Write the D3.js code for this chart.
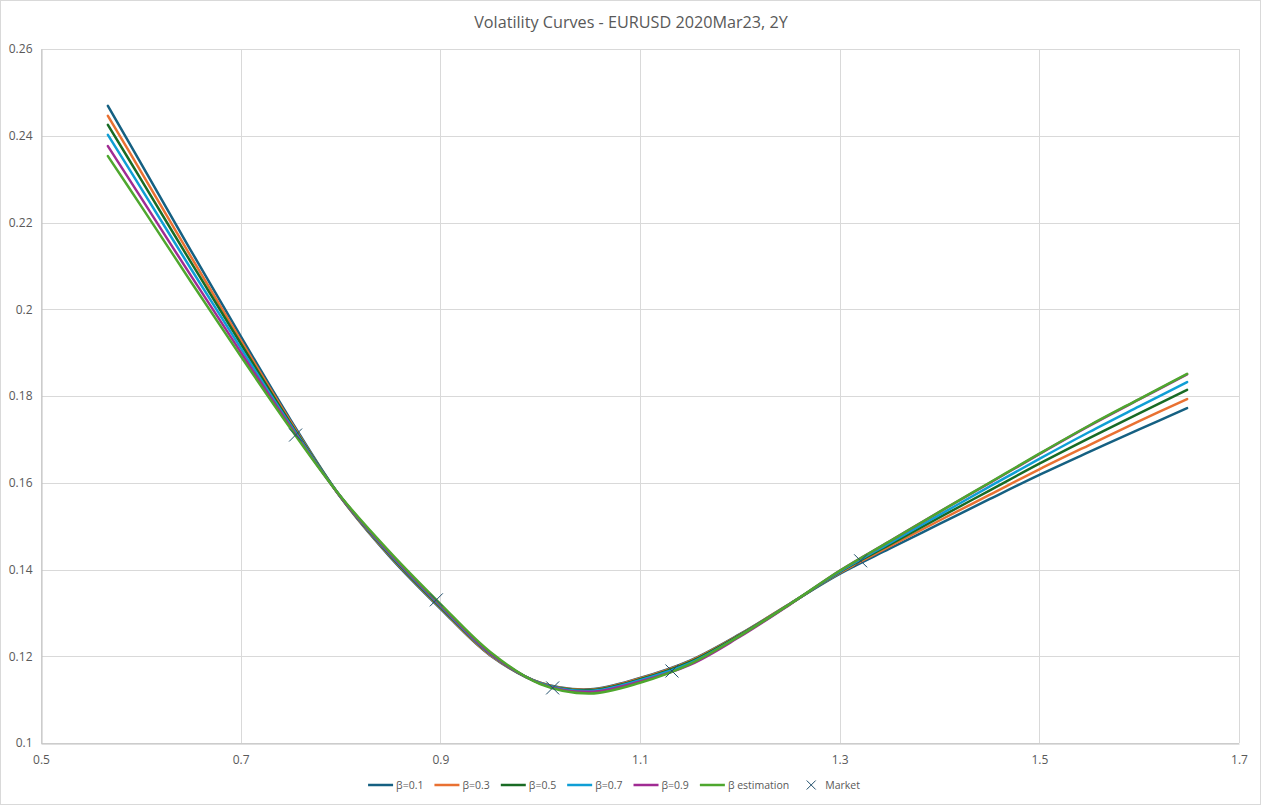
<!DOCTYPE html>
<html><head><meta charset="utf-8">
<script src="https://cdn.jsdelivr.net/npm/d3@7"></script>
<style>
html,body{margin:0;padding:0;background:#fff;}
text{font-family:"Open Sans","Noto Sans",sans-serif;}
</style></head>
<body>
<svg id="chart" width="1261" height="805"></svg>
<script>
const title = "Volatility Curves - EURUSD 2020Mar23, 2Y";
const strikes = [0.567, 0.6, 0.65, 0.7, 0.75, 0.8, 0.85, 0.9, 0.95, 1.0, 1.05, 1.1, 1.15, 1.2, 1.25, 1.3, 1.35, 1.4, 1.45, 1.5, 1.55, 1.6, 1.648];
const beta01 = [0.2469, 0.2337, 0.2136, 0.1938, 0.1745, 0.1567, 0.1428, 0.1310, 0.1202, 0.1139, 0.1124, 0.1150, 0.1190, 0.1251, 0.1321, 0.1390, 0.1448, 0.1505, 0.1562, 0.1618, 0.1671, 0.1723, 0.1772];
const beta03 = [0.2446, 0.2318, 0.2122, 0.1929, 0.1741, 0.1567, 0.1430, 0.1312, 0.1203, 0.1139, 0.1123, 0.1149, 0.1189, 0.1250, 0.1321, 0.1392, 0.1453, 0.1513, 0.1572, 0.1631, 0.1687, 0.1742, 0.1793];
const beta05 = [0.2425, 0.2300, 0.2109, 0.1921, 0.1737, 0.1568, 0.1432, 0.1314, 0.1205, 0.1138, 0.1122, 0.1147, 0.1187, 0.1249, 0.1320, 0.1394, 0.1457, 0.1520, 0.1582, 0.1644, 0.1703, 0.1760, 0.1814];
const beta07 = [0.2402, 0.2280, 0.2094, 0.1911, 0.1733, 0.1568, 0.1434, 0.1316, 0.1206, 0.1138, 0.1120, 0.1145, 0.1184, 0.1247, 0.1320, 0.1395, 0.1461, 0.1526, 0.1591, 0.1655, 0.1717, 0.1776, 0.1832];
const beta09 = [0.2376, 0.2258, 0.2078, 0.1901, 0.1729, 0.1568, 0.1436, 0.1318, 0.1207, 0.1137, 0.1118, 0.1142, 0.1180, 0.1245, 0.1319, 0.1397, 0.1465, 0.1533, 0.1599, 0.1666, 0.1731, 0.1792, 0.1850];
const betaEst = [0.2353, 0.2239, 0.2064, 0.1892, 0.1725, 0.1569, 0.1439, 0.1321, 0.1210, 0.1136, 0.1114, 0.1139, 0.1182, 0.1247, 0.1320, 0.1397, 0.1465, 0.1533, 0.1600, 0.1667, 0.1732, 0.1793, 0.1851];
const marketX = [0.755, 0.896, 1.0125, 1.132, 1.321];
const marketY = [0.1710, 0.1330, 0.1127, 0.1166, 0.1420];
const seriesNames = ["β=0.1", "β=0.3", "β=0.5", "β=0.7", "β=0.9", "β estimation"];
const seriesColors = ["#156082", "#E97132", "#196B24", "#0F9ED5", "#A02B93", "#4EA72E"];
const xTicks = [0.5, 0.7, 0.9, 1.1, 1.3, 1.5, 1.7];
const xTickLabels = ["0.5", "0.7", "0.9", "1.1", "1.3", "1.5", "1.7"];
const yTicks = [0.1, 0.12, 0.14, 0.16, 0.18, 0.2, 0.22, 0.24, 0.26];
const yTickLabels = ["0.1", "0.12", "0.14", "0.16", "0.18", "0.2", "0.22", "0.24", "0.26"];
const marketName = "Market";

(function () {
const series = [beta01, beta03, beta05, beta07, beta09, betaEst];

const svg = d3.select("#chart");
const W = 1261, H = 805;
const mLeft = 41, mRight = 1239, mTop = 49, mBottom = 743;

svg.append("rect").attr("x", 0.5).attr("y", 0.5).attr("width", W - 1).attr("height", H - 1)
  .attr("fill", "#fff").attr("stroke", "#d9d9d9");

const x = d3.scaleLinear().domain([0.5, 1.7]).range([mLeft, mRight]);
const y = d3.scaleLinear().domain([0.1, 0.26]).range([mBottom, mTop]);

const grid = svg.append("g");
grid.selectAll("line.v").data(xTicks).join("line").attr("class", "v")
  .attr("x1", d => Math.round(x(d)) + 0.5).attr("x2", d => Math.round(x(d)) + 0.5)
  .attr("y1", mTop).attr("y2", mBottom).attr("stroke", "#d9d9d9").attr("stroke-width", 1);
grid.selectAll("line.h").data(yTicks).join("line").attr("class", "h")
  .attr("y1", d => Math.round(y(d)) + 0.5).attr("y2", d => Math.round(y(d)) + 0.5)
  .attr("x1", mLeft).attr("x2", mRight).attr("stroke", "#d9d9d9").attr("stroke-width", 1);

const xAxis = d3.axisBottom(x).tickValues(xTicks).tickFormat((d, i) => xTickLabels[i]).tickSize(0).tickPadding(12);
const gx = svg.append("g").attr("transform", `translate(0,${mBottom + 0.5})`).call(xAxis);
gx.select(".domain").attr("stroke", "#bfbfbf");
gx.selectAll("text").attr("fill", "#595959").style("font-size", "12px").style("font-family", '"Open Sans",sans-serif');

const yAxis = d3.axisLeft(y).tickValues(yTicks).tickFormat((d, i) => yTickLabels[i]).tickSize(0).tickPadding(9);
const gy = svg.append("g").attr("transform", `translate(${mLeft + 0.5},0)`).call(yAxis);
gy.select(".domain").attr("stroke", "#bfbfbf");
gy.selectAll("text").attr("fill", "#595959").style("font-size", "12px").style("font-family", '"Open Sans",sans-serif');

svg.append("text").attr("x", 631).attr("y", 28).attr("text-anchor", "middle")
  .attr("fill", "#595959").style("font-size", "16.2px").text(title);

const line = d3.line().x((d, i) => x(strikes[i])).y(d => y(d)).curve(d3.curveCatmullRom.alpha(0.5));
svg.append("g").selectAll("path").data(series).join("path")
  .attr("d", d => line(d)).attr("fill", "none")
  .attr("stroke", (d, i) => seriesColors[i]).attr("stroke-width", 2.5)
  .attr("stroke-linejoin", "round").attr("stroke-linecap", "round");

const ms = 6.5;
const mg = svg.append("g").attr("stroke", "#1f4e6b").attr("stroke-width", 1);
marketX.forEach((mx, i) => {
  const px = x(mx), py = y(marketY[i]);
  mg.append("line").attr("x1", px - ms).attr("y1", py - ms).attr("x2", px + ms).attr("y2", py + ms);
  mg.append("line").attr("x1", px - ms).attr("y1", py + ms).attr("x2", px + ms).attr("y2", py - ms);
});

// legend: build, then centre
const lg = svg.append("g");
let cx = 0;
const ly = 785;
const fs = "10.5px";
seriesNames.forEach((name, i) => {
  lg.append("line").attr("x1", cx).attr("x2", cx + 25).attr("y1", ly).attr("y2", ly)
    .attr("stroke", seriesColors[i]).attr("stroke-width", 2.5);
  const t = lg.append("text").attr("x", cx + 28).attr("y", ly + 4).attr("fill", "#595959")
    .style("font-size", fs).text(name);
  cx += 28 + t.node().getComputedTextLength() + 11;
});
const mxp = cx + 11;
lg.append("line").attr("x1", mxp - 4.5).attr("y1", ly - 4.5).attr("x2", mxp + 4.5).attr("y2", ly + 4.5).attr("stroke", "#1f4e6b");
lg.append("line").attr("x1", mxp - 4.5).attr("y1", ly + 4.5).attr("x2", mxp + 4.5).attr("y2", ly - 4.5).attr("stroke", "#1f4e6b");
const mt = lg.append("text").attr("x", mxp + 14).attr("y", ly + 4).attr("fill", "#595959").style("font-size", fs).text(marketName);
const total = mxp + 14 + mt.node().getComputedTextLength();
lg.attr("transform", `translate(${614 - total / 2},0)`);
})();
</script>
</body></html>
